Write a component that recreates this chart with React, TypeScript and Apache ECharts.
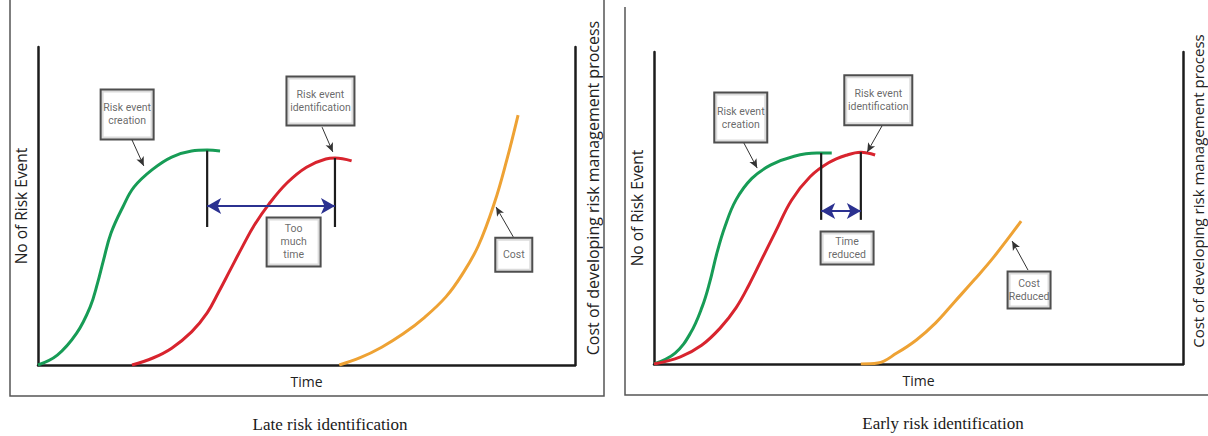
import React, { useEffect, useRef } from 'react';
import * as echarts from 'echarts';

// ---------- data (time 0-100, level 0-100) ----------
const lateCreation = [[0, 0], [3.6, 3.1], [7.2, 10], [9.7, 18.2], [11.1, 25.8], [12.2, 33], [13.6, 41.5], [15.8, 49.7], [17.9, 56], [21.4, 61.6], [24.9, 65.4], [28.6, 67.3], [31.5, 67.6], [33.9, 67.3]];
const lateIdentification = [[17.5, 0], [21.4, 2.2], [24.9, 5.3], [28.6, 10.4], [31.5, 16.4], [33.6, 22.8], [35.8, 29.9], [38.0, 37.0], [40.3, 44.0], [43.0, 50.6], [46.4, 57.3], [50.0, 62.2], [53.6, 64.8], [55.3, 65.1], [58.4, 64.2]];
const lateCost = [[56.1, 0], [60, 2.3], [64, 5.6], [68, 9.8], [72, 15.0], [76, 21.5], [79, 28.5], [82, 37.5], [85, 51], [87.3, 64.5], [89.4, 78.6]];

const earlyCreation = [[0, 0], [4.0, 3.5], [6.9, 9.9], [9.1, 18.3], [10.5, 26], [11.9, 35.6], [13.4, 44], [15.5, 52.6], [18.5, 59.5], [22.1, 63.8], [26.5, 66.6], [30.8, 67.6], [33.6, 67.6]];
const earlyIdentification = [[0, 0], [5, 2.3], [9, 6.0], [12.5, 11.5], [15.5, 18.0], [18, 25.5], [20.5, 34.0], [23, 42.5], [26, 52.5], [29.5, 60.0], [33, 64.5], [36.5, 67.0], [39.1, 67.9], [41.8, 67.0]];
const earlyCost = [[39.1, 0], [42.3, 0.3], [45.9, 3.5], [49.6, 7.7], [53.2, 13.1], [56.8, 19.9], [60.5, 26.9], [64.1, 34], [69.4, 45.8]];

// vertical markers: [x, top, bottom]
const lateMarkers = [[31.5, 67.4, 43.4], [55.3, 65.1, 43.4]];
const earlyMarkers = [[31.6, 67.6, 46.2], [39.1, 67.9, 46.2]];
// time gap arrow: [from, to, level]
const lateGap = [31.5, 55.3, 50.0];
const earlyGap = [31.6, 39.1, 49.0];

// notes
const lateNotes = ['Risk event\ncreation', 'Risk event\nidentification', 'Too\nmuch\ntime', 'Cost'];
const lateNoteAt = [[16.6, 78.8], [52.6, 83.0], [47.6, 38.7], [88.6, 34.7]];
const latePointers = [[[17.5, 70.8], [19.7, 62.6]], [[52.9, 74.8], [54.9, 67.0]], [[88.5, 40.3], [85.3, 49.7]]];

const earlyNotes = ['Risk event\ncreation', 'Risk event\nidentification', 'Time\nreduced', 'Cost\nReduced'];
const earlyNoteAt = [[16.4, 79.0], [42.4, 84.5], [36.5, 37.2], [70.9, 23.7]];
const earlyPointers = [[[17.0, 70.8], [19.5, 62.8]], [[43.1, 76.3], [40.3, 67.9]], [[70.7, 30.1], [67.7, 39.4]]];

const axisTitles = { y: 'No of Risk Event', y2: 'Cost of developing risk management process', x: 'Time' };
const panelTitles = ['Late risk identification', 'Early risk identification'];

// ---------- styles ----------
const GREEN = '#179c56';
const RED = '#d8242e';
const ORANGE = '#eea234';
const BLUE = '#2b3190';
const INK = '#1c1c1c';
const SANS = "'Open Sans', 'Noto Sans', sans-serif";
const NARROW = "'Liberation Sans Narrow', 'Roboto', sans-serif";
const lateBoxSize = [[54, 51], [69, 50], [55, 50], [38, 35]];
const earlyBoxSize = [[54, 51], [69, 51], [54, 34], [44, 38]];
const rightNameStyle = [
  { gap: 10, size: 16, shift: 36 },
  { gap: 7, size: 15, shift: 34 },
];

function buildPanel(idx: number, creation: number[][], ident: number[][], cost: number[][], markers: number[][], gap: number[], notes: string[], noteAt: number[][], sizes: number[][], pointers: number[][][]) {
  const ax = { xAxisIndex: idx, yAxisIndex: idx * 2 };
  const curve = (data: number[][], color: string) => ({
    type: 'line', ...ax, data, smooth: 0.4, symbol: 'none',
    lineStyle: { color, width: 3 }, silent: true, z: 3,
  });
  const series: any[] = [curve(creation, GREEN), curve(ident, RED), curve(cost, ORANGE)];
  markers.forEach((m) => {
    series.push({
      type: 'line', ...ax, data: [[m[0], m[1]], [m[0], m[2]]], symbol: 'none',
      lineStyle: { color: INK, width: 2.2 }, silent: true, z: 4,
    });
  });
  const lh = 13;
  series.push({
    type: 'scatter', ...ax, symbolSize: 0, silent: true, z: 6,
    data: notes.map((t, i) => {
      const n = t.split('\n').length;
      const [w, h] = sizes[i];
      const pv = Math.max(0, (h - n * lh) / 2);
      return {
        value: noteAt[i], name: t,
        label: { width: w - 3, padding: [pv - 1.5, 0, pv - 1.5, 0] },
      };
    }),
    label: {
      show: true, position: 'inside', formatter: (p: any) => p.name,
      backgroundColor: '#fff', borderColor: '#222', borderWidth: 2,
      color: '#444', fontSize: 10.5, lineHeight: lh, fontFamily: NARROW, align: 'center',
    },
    markLine: {
      silent: true, animation: false, label: { show: false }, emphasis: { disabled: true },
      symbol: ['none', 'arrow'], symbolSize: 7,
      lineStyle: { color: '#333', width: 1, type: 'solid' },
      data: [
        [
          { coord: [gap[0], gap[2]], symbol: 'arrow', symbolSize: [12, 14], lineStyle: { color: BLUE, width: 2, type: 'solid' } },
          { coord: [gap[1], gap[2]], symbol: 'arrow', symbolSize: [12, 14] },
        ],
        ...pointers.map((p) => [
          { coord: p[0], symbol: 'none' },
          { coord: p[1], symbol: 'arrow', symbolSize: [6, 9] },
        ]),
      ],
    },
  });
  return series;
}

export default function App() {
  const ref = useRef<HTMLDivElement>(null);
  useEffect(() => {
    if (!ref.current) return;
    const chart = echarts.init(ref.current, undefined, { renderer: 'svg' });
    const axisLine = { show: true, onZero: false, lineStyle: { color: INK, width: 2.5 } };
    const xAxisBase = (g: number) => ({
      type: 'value', gridIndex: g, min: 0, max: 100, axisLine, axisTick: { show: false },
      axisLabel: { show: false }, splitLine: { show: false },
      name: axisTitles.x, nameLocation: 'middle', nameGap: 9,
      nameTextStyle: { fontFamily: SANS, fontSize: 14, color: '#222' },
    });
    const yAxisBase = (g: number, right: boolean) => {
      const rs = rightNameStyle[g];
      return {
        type: 'value', gridIndex: g, min: 0, max: 100, position: right ? 'right' : 'left',
        axisLine, axisTick: { show: false }, axisLabel: { show: false }, splitLine: { show: false },
        name: right ? axisTitles.y2 : axisTitles.y, nameLocation: 'middle', nameRotate: 90,
        nameGap: right ? rs.gap : 9,
        nameTextStyle: right
          ? { fontFamily: SANS, fontSize: rs.size, color: '#222', padding: [0, 0, 0, rs.shift] }
          : { fontFamily: SANS, fontSize: 15.5, color: '#222' },
      };
    };
    const frame = { stroke: '#555', lineWidth: 1.5 };
    const titleStyle = { fontFamily: "'Liberation Serif', serif", fontSize: 17, fontWeight: 'normal', color: '#1a1a1a' };
    chart.setOption({
      animation: false,
      backgroundColor: '#fff',
      grid: [
        { left: 38, top: 47, width: 537, height: 318 },
        { left: 654, top: 52, width: 529, height: 312 },
      ],
      xAxis: [xAxisBase(0), xAxisBase(1)],
      yAxis: [yAxisBase(0, false), yAxisBase(0, true), yAxisBase(1, false), yAxisBase(1, true)],
      title: [
        { text: panelTitles[0], left: 330, top: 416, padding: 0, textAlign: 'center', textStyle: titleStyle },
        { text: panelTitles[1], left: 943, top: 415, padding: 0, textAlign: 'center', textStyle: titleStyle },
      ],
      graphic: [
        { type: 'polyline', shape: { points: [[10, 0], [10, 396], [604, 396], [604, 0]] }, style: { ...frame, fill: 'none' }, silent: true },
        { type: 'polyline', shape: { points: [[625, 7], [625, 395], [1208, 395]] }, style: { ...frame, fill: 'none' }, silent: true },
      ],
      series: [
        ...buildPanel(0, lateCreation, lateIdentification, lateCost, lateMarkers, lateGap, lateNotes, lateNoteAt, lateBoxSize, latePointers),
        ...buildPanel(1, earlyCreation, earlyIdentification, earlyCost, earlyMarkers, earlyGap, earlyNotes, earlyNoteAt, earlyBoxSize, earlyPointers),
      ],
    });
    return () => chart.dispose();
  }, []);
  return <div ref={ref} style={{ position: 'absolute', left: 0, top: 0, width: 1208, height: 436 }} />;
}
